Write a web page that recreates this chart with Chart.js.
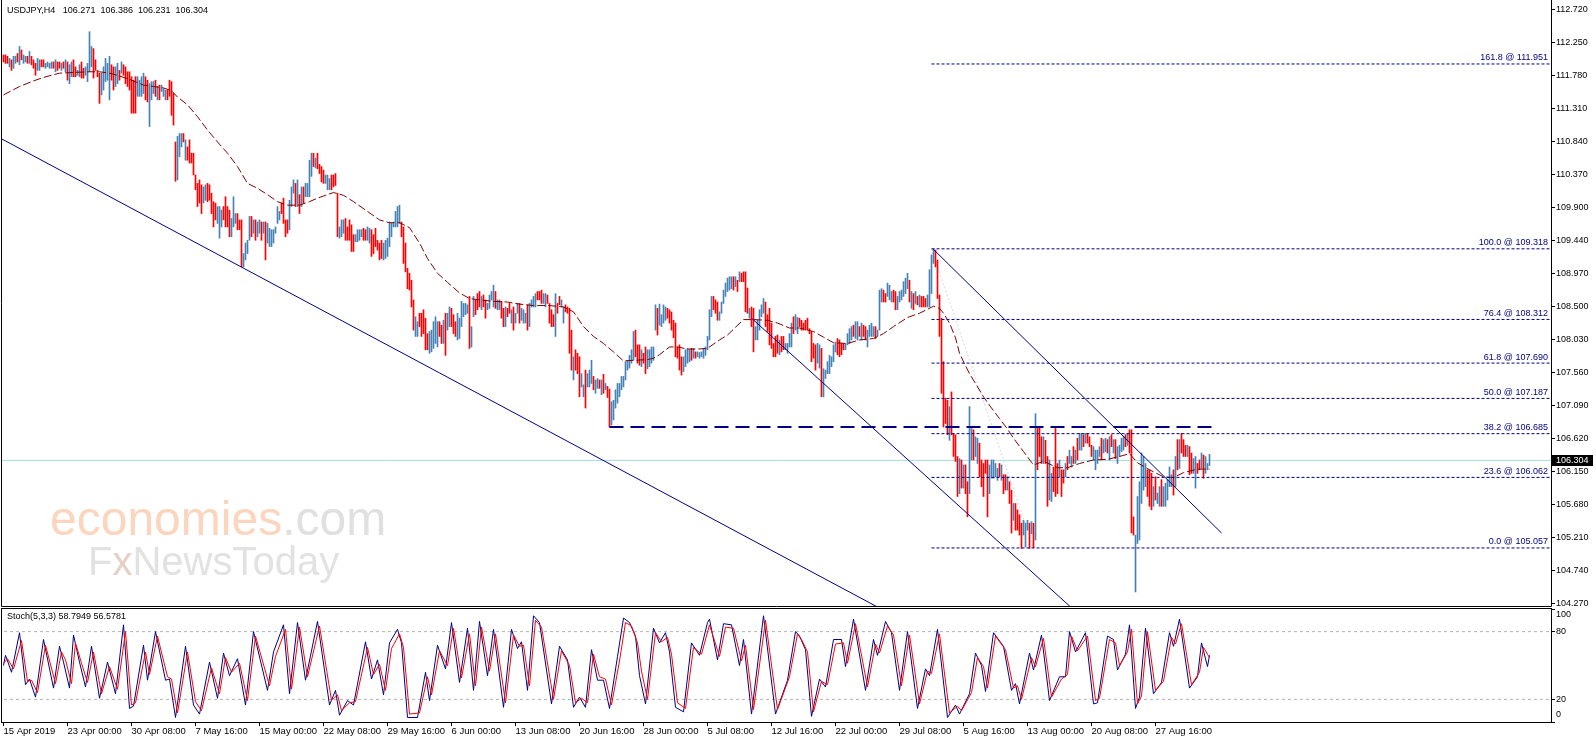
<!DOCTYPE html>
<html>
<head>
<meta charset="utf-8">
<title>USDJPY H4</title>
<script src="https://cdn.jsdelivr.net/npm/chart.js@4.4.1/dist/chart.umd.min.js"></script>
<style>
  html, body { margin: 0; padding: 0; background: #fff; }
  #wrap { position: relative; width: 1596px; height: 743px; overflow: hidden; background: #fff; }
  #wrap canvas { position: absolute; left: 0; top: 0; }
</style>
</head>
<body>
<div id="wrap">
  <canvas id="priceChart" width="1596" height="743"></canvas>
  <canvas id="stochChart" width="1596" height="743"></canvas>
</div>
<script>
// ---- data (bar 0 = 15 Apr 2019 16:00) ----
const symbolName = 'USDJPY,H4';
const lastBarOHLC = [106.271, 106.386, 106.231, 106.304];

const barHigh = [
  112.08,112.08,112.06,112.03,112.01,112.06,112.06,112.10,112.20,112.15,
  112.08,112.06,112.06,112.13,112.06,112.01,111.96,112.03,112.01,112.01,
  112.01,111.96,111.98,111.96,111.98,111.98,112.01,111.98,111.98,111.96,
  111.98,112.01,111.98,111.94,111.98,112.01,111.91,111.86,111.94,111.98,
  111.89,111.91,111.96,112.41,112.20,112.17,112.01,111.86,111.82,111.82,
  111.91,112.03,111.96,112.06,111.94,111.91,111.91,111.96,111.86,111.98,
  111.94,111.91,111.84,111.84,111.77,111.72,111.77,111.77,111.72,111.77,
  111.82,111.77,111.72,111.67,111.70,111.70,111.72,111.63,111.65,111.65,
  111.60,111.58,111.58,111.72,111.70,111.53,110.84,110.92,110.96,110.96,
  110.96,110.87,110.77,110.87,110.68,110.68,110.37,110.25,110.30,110.23,
  110.20,110.23,110.25,110.23,110.11,109.99,109.97,109.92,109.92,109.87,
  109.92,110.06,109.92,109.87,109.75,110.06,109.82,109.82,109.73,109.73,
  109.25,109.40,109.44,109.78,109.78,109.73,109.73,109.70,109.73,109.70,
  109.70,109.70,109.68,109.61,109.59,109.59,109.63,109.92,109.85,109.97,
  110.04,109.73,109.73,110.01,110.20,110.30,110.25,110.30,110.09,110.20,
  110.20,110.25,110.25,110.58,110.68,110.68,110.61,110.68,110.52,110.49,
  110.44,110.37,110.37,110.32,110.37,110.37,110.39,110.11,109.63,109.73,
  109.73,109.75,109.63,109.73,109.66,109.52,109.52,109.59,109.59,109.59,
  109.61,109.59,109.63,109.61,109.59,109.52,109.61,109.44,109.40,109.44,
  109.40,109.44,109.47,109.70,109.68,109.70,109.85,109.92,109.94,109.70,
  109.63,109.40,109.04,108.97,108.87,108.59,108.35,108.28,108.40,108.40,
  108.45,108.33,108.11,108.14,108.16,108.28,108.35,108.28,108.28,108.23,
  108.30,108.40,108.40,108.49,108.47,108.38,108.28,108.40,108.33,108.57,
  108.54,108.54,108.52,108.64,108.21,108.64,108.59,108.68,108.71,108.64,
  108.66,108.59,108.54,108.66,108.71,108.80,108.71,108.59,108.59,108.57,
  108.47,108.49,108.47,108.54,108.45,108.49,108.40,108.54,108.54,108.47,
  108.45,108.40,108.52,108.54,108.59,108.64,108.68,108.71,108.71,108.73,
  108.68,108.68,108.66,108.54,108.45,108.38,108.68,108.54,108.64,108.59,
  108.49,108.52,108.49,108.47,108.16,107.78,107.88,107.83,107.78,107.54,
  107.38,107.59,107.54,107.59,107.73,107.50,107.45,107.47,107.45,107.45,
  107.53,107.40,107.36,107.32,107.14,107.16,107.31,107.40,107.40,107.50,
  107.50,107.71,107.73,107.80,107.88,108.14,108.16,107.95,107.95,107.88,
  107.83,107.92,107.88,107.88,107.92,107.92,108.52,108.47,108.53,108.38,
  108.52,108.49,108.47,108.45,108.42,108.30,108.26,107.92,107.95,107.78,
  107.78,107.88,107.90,107.88,107.90,107.90,107.85,107.85,107.84,107.85,
  107.90,107.92,108.07,108.45,108.64,108.64,108.59,108.56,108.42,108.56,
  108.73,108.83,108.90,108.92,108.92,108.92,108.92,108.87,108.99,108.97,
  108.99,108.99,108.76,108.47,108.49,108.47,108.21,108.30,108.45,108.52,
  108.61,108.56,108.38,108.47,108.26,107.97,108.07,108.09,108.02,108.07,
  108.07,107.97,107.97,108.11,108.26,108.35,108.38,108.34,108.33,108.30,
  108.26,108.30,108.33,108.18,108.14,107.97,107.95,107.97,107.95,107.90,
  107.61,107.59,107.71,107.80,107.78,107.95,107.99,108.04,108.02,107.97,
  107.97,107.97,108.11,108.18,108.21,108.23,108.28,108.28,108.21,108.26,
  108.23,108.21,108.16,108.23,108.26,108.21,108.21,108.16,108.73,108.75,
  108.73,108.68,108.83,108.80,108.71,108.73,108.71,108.64,108.71,108.73,
  108.85,108.90,108.97,108.87,108.71,108.68,108.71,108.64,108.66,108.64,
  108.64,108.61,108.66,109.02,109.23,109.32,109.30,109.16,108.66,108.33,
  107.71,107.19,107.16,107.07,107.28,106.69,106.67,106.36,106.33,106.31,
  106.24,106.24,106.00,107.07,106.76,106.74,106.64,106.62,106.55,106.31,
  106.26,106.31,106.31,106.24,106.31,106.31,106.26,106.19,106.26,106.24,
  106.10,106.10,106.07,106.00,105.88,105.69,105.69,105.60,105.53,105.41,
  105.45,105.41,105.45,105.41,105.43,105.41,106.97,106.76,106.78,106.64,
  106.64,106.59,106.36,106.31,106.12,106.21,106.76,106.26,106.31,106.17,
  106.17,106.26,106.36,106.45,106.36,106.50,106.45,106.62,106.69,106.69,
  106.67,106.69,106.69,106.64,106.52,106.50,106.45,106.45,106.50,106.62,
  106.60,106.62,106.60,106.64,106.67,106.60,106.60,106.50,106.52,106.62,
  106.64,106.67,106.69,106.74,106.74,105.50,105.24,105.79,106.00,106.41,
  106.36,106.26,106.17,106.17,106.12,105.93,106.07,105.84,105.93,106.03,
  105.93,105.98,106.03,106.21,106.10,106.17,106.36,106.60,106.60,106.69,
  106.60,106.52,106.52,106.50,106.41,106.33,106.36,106.26,106.31,106.41,
  106.38,106.36,106.26,106.39
];

const barLow = [
  111.98,111.96,111.96,111.91,111.86,111.89,111.96,111.98,111.94,112.01,
  111.96,111.98,111.96,111.96,111.94,111.89,111.79,111.86,111.86,111.91,
  111.91,111.89,111.91,111.89,111.89,111.89,111.84,111.86,111.89,111.86,
  111.89,111.84,111.72,111.67,111.77,111.77,111.77,111.79,111.77,111.75,
  111.75,111.79,111.70,111.84,111.91,111.75,111.86,111.77,111.39,111.51,
  111.58,111.70,111.72,111.44,111.72,111.58,111.63,111.67,111.72,111.82,
  111.79,111.67,111.63,111.58,111.25,111.25,111.25,111.49,111.49,111.49,
  111.53,111.44,111.41,111.06,111.44,111.53,111.49,111.44,111.44,111.56,
  111.49,111.44,111.44,111.49,111.22,111.08,110.28,110.30,110.63,110.77,
  110.84,110.58,110.58,110.54,110.54,110.37,110.16,109.92,109.97,109.82,
  109.97,110.01,109.99,110.01,109.82,109.63,109.73,109.68,109.47,109.63,
  109.73,109.63,109.63,109.49,109.49,109.63,109.68,109.59,109.59,109.06,
  109.06,109.16,109.25,109.44,109.49,109.54,109.44,109.49,109.54,109.44,
  109.54,109.16,109.40,109.35,109.35,109.40,109.54,109.68,109.73,109.82,
  109.68,109.49,109.54,109.59,109.92,110.11,109.92,109.92,109.82,109.92,
  109.97,110.06,110.06,110.06,110.35,110.49,110.47,110.46,110.39,110.27,
  110.25,110.25,110.16,110.16,110.16,110.20,110.22,109.49,109.47,109.49,
  109.54,109.44,109.44,109.44,109.28,109.28,109.42,109.42,109.44,109.49,
  109.44,109.44,109.44,109.40,109.21,109.25,109.35,109.30,109.16,109.18,
  109.16,109.18,109.21,109.35,109.49,109.63,109.63,109.63,109.68,109.49,
  109.11,108.99,108.75,108.73,108.49,108.16,108.07,108.07,108.21,108.07,
  108.11,107.88,107.88,107.83,107.85,107.90,107.97,107.92,108.07,107.97,
  107.97,107.80,108.16,108.21,108.21,108.11,108.07,108.02,108.04,108.21,
  108.35,108.38,108.40,107.90,107.92,108.35,108.38,108.45,108.49,108.45,
  108.49,108.33,108.45,108.47,108.59,108.49,108.47,108.45,108.45,108.33,
  108.21,108.21,108.35,108.40,108.26,108.16,108.26,108.40,108.26,108.30,
  108.26,108.26,108.16,108.21,108.49,108.49,108.49,108.59,108.59,108.54,
  108.54,108.49,108.54,108.26,108.21,108.21,108.07,108.40,108.52,108.49,
  108.26,108.42,108.40,107.83,107.59,107.45,107.59,107.54,107.21,107.35,
  107.21,107.05,107.35,107.35,107.40,107.31,107.26,107.33,107.33,107.24,
  107.26,107.31,107.20,106.78,106.81,106.88,107.05,107.12,107.21,107.31,
  107.35,107.45,107.59,107.62,107.69,107.73,107.78,107.69,107.66,107.64,
  107.69,107.54,107.61,107.64,107.69,107.73,108.16,108.09,108.23,108.21,
  108.26,108.30,108.33,108.26,108.16,108.05,107.78,107.76,107.59,107.52,
  107.57,107.64,107.69,107.71,107.73,107.76,107.76,107.78,107.76,107.78,
  107.76,107.80,107.88,108.02,108.35,108.45,108.40,108.30,108.30,108.40,
  108.54,108.64,108.71,108.73,108.75,108.73,108.78,108.71,108.85,108.85,
  108.85,108.42,108.40,108.33,108.21,107.85,108.02,108.02,108.16,108.35,
  108.40,108.21,108.14,107.95,107.90,107.78,107.78,107.83,107.81,107.85,
  107.88,107.88,107.83,107.92,107.92,108.11,108.16,108.11,108.21,108.16,
  108.16,108.16,108.16,108.11,107.71,107.76,107.59,107.69,107.62,107.21,
  107.21,107.47,107.54,107.54,107.64,107.71,107.85,107.81,107.78,107.81,
  107.88,107.88,107.95,107.97,108.02,108.07,108.04,108.02,108.07,108.02,
  108.07,108.02,107.92,108.07,108.07,108.07,108.04,108.07,108.16,108.56,
  108.56,108.56,108.64,108.59,108.56,108.56,108.45,108.45,108.56,108.59,
  108.64,108.68,108.75,108.56,108.47,108.45,108.54,108.52,108.49,108.49,
  108.49,108.49,108.49,108.49,108.68,109.11,109.06,108.61,108.07,107.26,
  106.78,106.83,106.67,106.59,106.67,106.36,106.29,105.79,105.83,105.91,
  105.91,105.83,105.50,105.83,106.31,106.31,106.36,106.26,106.07,105.93,
  105.79,106.12,105.50,105.83,106.05,106.05,106.07,106.02,106.07,106.02,
  105.83,105.88,105.88,105.69,105.27,105.45,105.31,105.31,105.24,105.05,
  105.24,105.07,105.31,105.05,105.26,105.06,105.17,106.17,106.36,106.26,
  106.26,106.26,105.65,105.74,105.72,105.86,105.79,105.83,106.07,105.79,
  105.98,106.07,106.17,106.26,106.21,106.26,106.26,106.31,106.45,106.45,
  106.50,106.55,106.55,106.50,106.36,106.31,106.17,106.26,106.36,106.31,
  106.41,106.43,106.41,106.31,106.50,106.41,106.33,106.26,106.36,106.43,
  106.45,106.50,106.52,106.41,105.27,105.24,104.43,105.12,105.17,105.69,
  105.88,105.93,105.79,105.65,105.60,105.65,105.74,105.69,105.65,105.65,
  105.65,105.65,105.74,105.93,105.93,105.81,105.93,106.17,106.19,106.41,
  106.36,106.36,106.36,106.10,106.12,106.12,105.91,106.12,106.17,106.19,
  106.05,106.12,106.17,106.23
];

// b = bar closed up (blue), r = bar closed down (red)
const barDirection = [
  'rrrbrbbrbr','bbrbrrrbbr','rbbbbrbrrb','rbrbbrrbbr','rbbbbrrrrb','bbbbrrbbrb',
  'rrrrrrrbbb','brrbbbrbrb','bbrrrrrbbb','rbrrrrrrrr','bbrrrrrbbb','rrrrbbbrrr',
  'bbbbrbrbbr','brbbbbbbbr','rrrbbbrbrb','rbbbbrbrrr','rbbbrrrrbb','brrrrrbbbb',
  'rrbbrrrrrr','bbbbbbbbbr','rrrrrrbbrr','rrrbbbbbrr','brbbrrrbbb','bbbrbbrrrb',
  'rrbbbbrbbr','rbrrbrbbrb','bbrbbbbrrr','bbrrrrbrrb','brrrrbrrrb','brbbbrbbrb',
  'rbrrbbbbbb','bbbbbbrrrb','rrbbbbbrbb','bbrrrrrrrr','bbbbrbrbbb','bbbbbrrrbb',
  'bbbbbrbrbr','rrrbrrbbbb','brrrrrrrbr','rbbbbrbbrr','rrrrrrrbbr','bbbbbbbrrr',
  'rbbbbrbbrb','rrbbbbrbbb','rrbbbrrbbb','bbbrbrbrbr','rrbbbbrrrr','rrrbrrrrbr',
  'brrbbrbbrr','rrrbbbbbrb','rrbrrbrrrr','bbbrbrbrrr','brrbbrrrbr','rbrbbrbrbb',
  'rbrrrbbbbr','bbrbrbrbbb','brbrrrbbbb','bbrrrbrbbr','bbbbbrbrbr','rrbrrbbrrb',
  'rbbb'
].join('').split('');

// 50-period moving average, read at these bars
const maBars = [0,8,15,20,28,35,43,48,53,58,65,70,75,80,84,87,92,97,102,107,
  112,117,122,127,132,137,142,148,153,157,165,170,175,182,188,193,198,203,208,212,
  217,222,228,233,238,245,252,258,265,273,280,285,290,295,300,305,310,315,322,325,
  328,333,337,342,347,352,358,362,370,375,382,387,393,398,405,410,415,422,428,435,
  440,445,452,458,465,468,470,473,476,478,481,483,486,490,494,498,502,505,510,515,
  520,527,532,538,545,552,558,563,567,573,580,585,590,597,603];
const maValues = [111.51,111.63,111.71,111.76,111.82,111.83,111.84,111.84,111.82,111.78,
  111.71,111.65,111.63,111.61,111.57,111.48,111.37,111.20,111.01,110.84,
  110.68,110.49,110.25,110.18,110.09,109.99,109.94,109.94,109.99,110.04,
  110.12,110.08,109.99,109.85,109.73,109.69,109.69,109.62,109.40,109.18,
  108.97,108.84,108.69,108.61,108.59,108.57,108.56,108.53,108.51,108.51,
  108.49,108.42,108.21,108.07,107.97,107.85,107.72,107.73,107.74,107.76,
  107.81,107.92,107.92,107.89,107.89,107.90,108.02,108.09,108.31,108.31,
  108.30,108.26,108.19,108.19,108.14,108.06,107.98,107.97,108.02,108.04,
  108.11,108.21,108.34,108.40,108.50,108.47,108.40,108.26,108.05,107.83,
  107.65,107.54,107.40,107.21,107.05,106.90,106.75,106.62,106.43,106.24,
  106.29,106.20,106.20,106.26,106.31,106.32,106.36,106.40,106.27,106.17,
  106.07,106.06,106.13,106.18,106.18];

// Fibonacci retracement of the 109.318 -> 105.057 fall
const fibLevels = ['161.8','100.0','76.4','61.8','50.0','38.2','23.6','0.0'];
const fibPrices = [111.951,109.318,108.312,107.690,107.187,106.685,106.062,105.057];
const fibStartBar = 464;
const fibSwingBars = [464, 515];
const fibSwingPrices = [109.318, 105.057];

// hand-drawn objects (bar, price anchors)
const supportBars = [303, 605];
const supportPrice = 106.78;
const trendLongBars = [-1, 440];
const trendLongPrices = [110.885, 104.17];
const channelTopBars = [465, 609];
const channelTopPrices = [109.31, 105.27];
const channelLowBars = [374, 540];
const channelLowPrices = [108.33, 104.05];

const priceTicks = [112.720,112.250,111.780,111.310,110.840,110.370,109.900,109.440,108.970,
  108.500,108.030,107.560,107.090,106.620,106.150,105.680,105.210,104.740,104.270];

const xTickBars = [0,32,64,96,128,160,192,224,256,288,320,352,384,416,448,480,512,544,576];
const xTickLabels = ['15 Apr 2019','23 Apr 00:00','30 Apr 08:00','7 May 16:00','15 May 00:00',
  '22 May 08:00','29 May 16:00','6 Jun 00:00','13 Jun 08:00','20 Jun 16:00','28 Jun 00:00',
  '5 Jul 08:00','12 Jul 16:00','22 Jul 00:00','29 Jul 08:00','5 Aug 16:00','13 Aug 00:00',
  '20 Aug 08:00','27 Aug 16:00'];

// Stochastic(5,3,3): %K and %D turning points
const stochKBars = [0,1,4,8,11,13,16,20,25,28,30,33,35,38,41,44,48,52,56,60,
  63,65,70,72,76,81,83,86,91,95,98,103,107,110,113,117,121,125,132,135,
  140,143,147,151,157,163,166,168,172,175,181,184,187,190,193,197,199,202,207,211,
  213,217,221,224,228,232,235,238,242,245,250,254,257,259,262,265,268,274,278,282,
  285,288,291,294,297,300,303,307,310,313,316,318,321,325,328,331,333,336,340,344,
  348,352,353,357,360,364,368,370,374,380,386,392,396,398,401,404,408,411,415,419,
  421,425,431,435,437,441,444,448,452,457,461,463,467,472,476,478,483,486,489,491,
  495,500,504,506,508,513,515,519,523,528,531,533,536,541,545,547,552,555,557,561,
  563,566,568,571,575,579,583,585,588,593,597,599,602,603];
const stochKValues = [50,59,44,79,33,38,22,73,30,67,53,30,77,53,31,67,21,53,25,86,
  12,14,68,37,80,37,38,4,67,15,7,53,21,61,41,56,15,80,28,62,
  86,25,88,37,89,15,28,6,19,15,71,38,55,24,70,82,70,4,4,44,
  19,68,47,88,35,83,28,89,41,82,13,82,65,71,28,94,88,16,67,55,
  13,22,13,64,37,37,12,58,92,88,76,41,16,83,70,79,62,13,9,70,
  59,88,91,55,87,86,50,73,7,94,7,37,80,76,64,5,38,31,73,73,
  49,91,28,73,59,89,79,28,80,12,47,41,82,4,15,7,25,61,50,27,
  79,67,28,34,16,61,46,77,19,40,40,80,62,79,16,17,76,73,46,60,
  86,12,22,83,25,35,79,67,91,30,40,70,49,59];
const stochDBars = [0,2,5,9,12,14,17,21,26,29,31,34,36,39,42,45,49,53,57,61,
  64,66,71,73,77,82,84,87,92,96,99,104,108,111,114,118,122,126,133,136,
  141,144,148,152,158,164,167,169,173,176,182,185,188,191,194,198,200,203,208,212,
  214,218,222,225,229,233,236,239,243,246,251,255,258,260,263,266,269,275,279,283,
  286,289,292,295,298,301,304,308,311,314,317,319,322,326,329,332,334,337,341,345,
  349,353,358,361,365,369,371,375,381,387,393,397,399,402,405,409,412,416,420,422,
  426,432,436,438,442,445,449,453,458,462,464,468,473,477,479,484,487,490,492,496,
  501,505,507,509,514,516,520,524,529,532,534,537,542,546,548,553,556,558,562,564,
  567,569,572,576,580,584,586,589,594,598,600,603];
const stochDValues = [52,56,47,72,36,37,26,68,34,62,55,34,70,52,35,62,25,49,29,80,
  15,17,62,42,76,40,38,8,62,18,10,48,25,57,44,52,19,76,32,58,
  82,29,84,40,85,19,24,10,17,18,66,42,51,28,65,78,66,7,8,40,
  24,63,50,83,39,78,32,84,45,78,17,77,67,68,32,90,84,20,63,50,
  17,21,17,60,40,38,15,54,88,85,70,45,20,79,71,75,60,17,12,66,
  60,86,58,84,83,54,68,11,90,11,40,78,73,62,9,36,33,69,70,52,
  87,31,69,61,85,77,32,77,16,45,43,78,8,14,10,26,57,49,30,76,
  64,30,32,20,57,49,74,22,38,42,76,63,76,19,21,73,70,50,62,82,
  16,23,80,28,36,75,69,87,33,44,66,57];
const stochLevels = [80, 20];
const stochAxisTicks = [0, 20, 80, 100];
const stochLast = [58.7949, 56.5781];

// ---- layout: 2 px per bar, bar 0 centred at x = 3.5 ----
const X_MIN = -0.75, X_MAX = 773.75;
const Y_MIN = 104.23, Y_MAX = 112.8624;
const AXIS_W = 45;
const NAVY = '#000080';
const FONT = '"Liberation Sans", Arial, sans-serif';

Chart.defaults.font.family = FONT;
Chart.defaults.color = '#000';
Chart.defaults.animation = false;

function pts(xs, ys) { return xs.map((x, i) => ({ x: x, y: ys[i] })); }
function flat(x0, x1, y) { return [{ x: x0, y: y }, { x: x1, y: y }]; }
function lineSet(data, color, dash, width, order) {
  return { type: 'line', data: data, borderColor: color, borderWidth: width, borderDash: dash,
    pointRadius: 0, fill: false, tension: 0, order: order };
}

const barPoints = barHigh.map((h, i) => ({ x: i, y: [barLow[i], h] }));
const barColors = barDirection.map(d => d === 'b' ? '#4682b4' : '#ff0000');

const mainDatasets = [
  lineSet(flat(X_MIN - 2, X_MAX + 2, lastBarOHLC[3]), '#a4dbe2', [], 1, 6),
  lineSet(pts(fibSwingBars, fibSwingPrices), '#d6d6f0', [2, 2], 1, 5),
  { type: 'bar', data: barPoints, backgroundColor: barColors, barThickness: 1,
    borderWidth: 0, borderSkipped: false, order: 4 },
  lineSet(pts(maBars, maValues), '#800000', [8, 3], 1, 3)
];
fibPrices.forEach(p => mainDatasets.push(lineSet(flat(fibStartBar, X_MAX + 2, p), NAVY, [3, 2], 1, 2)));
mainDatasets.push(lineSet(flat(supportBars[0], supportBars[1], supportPrice), NAVY, [14, 7], 2, 1));
mainDatasets.push(lineSet(pts(trendLongBars, trendLongPrices), NAVY, [], 1, 1));
mainDatasets.push(lineSet(pts(channelTopBars, channelTopPrices), NAVY, [], 1, 1));
mainDatasets.push(lineSet(pts(channelLowBars, channelLowPrices), NAVY, [], 1, 1));

const mainOverlay = {
  id: 'mainOverlay',
  beforeDatasetsDraw(chart) {
    const ctx = chart.ctx;
    ctx.save();
    ctx.textBaseline = 'alphabetic';
    ctx.font = '48px ' + FONT;
    ctx.fillStyle = '#fcd5bf';
    ctx.fillText('economies', 50, 535);
    const w = ctx.measureText('economies').width;
    ctx.fillStyle = '#e0e0e0';
    ctx.fillText('.com', 50 + w, 535);
    ctx.font = '40px ' + FONT;
    ctx.fillStyle = '#e2e2e2';
    ctx.fillText('F', 88, 575);
    const wf = ctx.measureText('F').width;
    ctx.fillStyle = '#e6cfc6';
    ctx.fillText('x', 88 + wf, 575);
    const wx = ctx.measureText('x').width;
    ctx.fillStyle = '#e2e2e2';
    ctx.fillText('NewsToday', 88 + wf + wx, 575);
    ctx.restore();
  },
  afterDraw(chart) {
    const ctx = chart.ctx, y = chart.scales.y, a = chart.chartArea;
    ctx.save();
    ctx.font = '9px ' + FONT;
    ctx.textBaseline = 'middle';
    // fib labels
    ctx.fillStyle = NAVY;
    ctx.textAlign = 'right';
    fibPrices.forEach((p, i) => {
      ctx.fillText(fibLevels[i] + ' @ ' + p.toFixed(3), a.right - 3, y.getPixelForValue(p) - 6);
    });
    // title
    ctx.textAlign = 'left';
    ctx.fillStyle = '#000';
    ctx.fillText(symbolName + '   ' + lastBarOHLC.map(v => v.toFixed(3)).join('  '), 7, 11);
    // current price box
    const py = Math.round(y.getPixelForValue(lastBarOHLC[3]));
    ctx.fillStyle = '#000';
    ctx.fillRect(a.right + 1, py - 5, 41, 11);
    ctx.fillStyle = '#fff';
    ctx.fillText(lastBarOHLC[3].toFixed(3), a.right + 5, py + 0.5);
    // frame
    ctx.strokeStyle = '#000';
    ctx.lineWidth = 1;
    ctx.beginPath();
    ctx.moveTo(1.5, 0); ctx.lineTo(1.5, a.bottom + 0.5);
    ctx.lineTo(a.right + 0.5, a.bottom + 0.5); ctx.lineTo(a.right + 0.5, 0);
    ctx.stroke();
    ctx.restore();
  }
};

new Chart(document.getElementById('priceChart'), {
  type: 'bar',
  data: { datasets: mainDatasets },
  options: {
    responsive: false,
    devicePixelRatio: 1,
    events: [],
    layout: { autoPadding: false, padding: { left: 2, top: 0, right: 0, bottom: 137 } },
    plugins: { legend: { display: false }, tooltip: { enabled: false } },
    scales: {
      x: { type: 'linear', display: false, min: X_MIN, max: X_MAX, offset: false },
      y: {
        type: 'linear', position: 'right', min: Y_MIN, max: Y_MAX,
        afterBuildTicks: s => { s.ticks = priceTicks.map(v => ({ value: v })); },
        afterFit: s => { s.width = AXIS_W; s.paddingTop = 0; s.paddingBottom = 0; },
        ticks: { callback: v => v.toFixed(3), font: { size: 9 }, color: '#000', padding: 1 },
        grid: { drawOnChartArea: false, drawTicks: true, tickLength: 4, color: '#000' },
        border: { display: false }
      }
    }
  },
  plugins: [mainOverlay]
});

const stochOverlay = {
  id: 'stochOverlay',
  afterDraw(chart) {
    const ctx = chart.ctx, y = chart.scales.y, a = chart.chartArea;
    ctx.save();
    ctx.font = '9px ' + FONT;
    ctx.textBaseline = 'middle';
    ctx.fillStyle = '#000';
    ctx.fillText('Stoch(5,3,3) ' + stochLast[0].toFixed(4) + ' ' + stochLast[1].toFixed(4), 7, a.top + 8);
    stochAxisTicks.forEach(v => {
      let py = y.getPixelForValue(v);
      if (v === 100) py += 6;
      if (v === 0) py -= 7;
      ctx.fillText(String(v), a.right + 5, py);
    });
    ctx.strokeStyle = '#000';
    ctx.lineWidth = 1;
    ctx.strokeRect(1.5, a.top - 0.5, a.right - 1, a.bottom - a.top + 1);
    ctx.restore();
  }
};

const stochDatasets = stochLevels.map(v => lineSet(flat(X_MIN - 2, X_MAX + 2, v), '#b4b4b4', [3, 3], 1, 3));
stochDatasets.push(lineSet(pts(stochKBars, stochKValues), NAVY, [], 1, 2));
stochDatasets.push(lineSet(pts(stochDBars, stochDValues), '#ff0000', [], 1, 1));

new Chart(document.getElementById('stochChart'), {
  type: 'line',
  data: { datasets: stochDatasets },
  options: {
    responsive: false,
    devicePixelRatio: 1,
    events: [],
    layout: { autoPadding: false, padding: { left: 2, top: 609, right: 0, bottom: 0 } },
    plugins: { legend: { display: false }, tooltip: { enabled: false } },
    scales: {
      x: {
        type: 'linear', position: 'bottom', min: X_MIN, max: X_MAX, offset: false,
        afterBuildTicks: s => { s.ticks = xTickBars.map(v => ({ value: v })); },
        afterFit: s => { s.height = 21; s.paddingLeft = 0; s.paddingRight = 0; },
        ticks: { callback: (v, i) => xTickLabels[i], autoSkip: false, maxRotation: 0, minRotation: 0,
          align: 'start', font: { size: 9.5 }, color: '#000', padding: 0 },
        grid: { drawOnChartArea: false, drawTicks: true, tickLength: 4, color: '#000' },
        border: { display: false }
      },
      y: {
        type: 'linear', position: 'right', min: 0, max: 100,
        afterBuildTicks: s => { s.ticks = stochAxisTicks.map(v => ({ value: v })); },
        afterFit: s => { s.width = AXIS_W; s.paddingTop = 0; s.paddingBottom = 0; },
        ticks: { display: false },
        grid: { drawOnChartArea: false, drawTicks: true, tickLength: 4, color: '#000' },
        border: { display: false }
      }
    }
  },
  plugins: [stochOverlay]
});
</script>
</body>
</html>
